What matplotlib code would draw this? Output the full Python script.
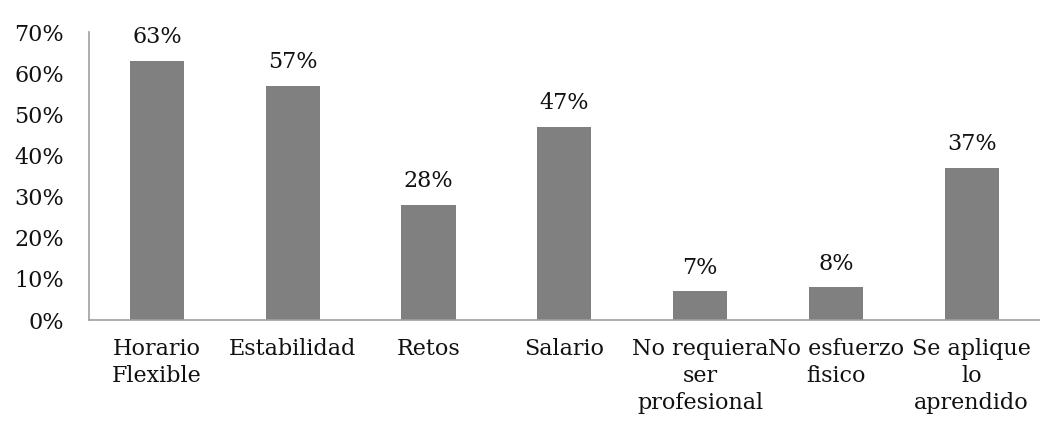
import matplotlib.pyplot as plt
from matplotlib.ticker import PercentFormatter

# datos
categorias = ['Horario\nFlexible', 'Estabilidad', 'Retos', 'Salario',
              'No requiera\nser\nprofesional', 'No esfuerzo\nfisico',
              'Se aplique\nlo\naprendido']
valores = [0.63, 0.57, 0.28, 0.47, 0.07, 0.08, 0.37]
etiquetas = ['63%', '57%', '28%', '47%', '7%', '8%', '37%']

plt.rcParams['font.family'] = ['DejaVu Serif']
plt.rcParams['font.size'] = 16

fig = plt.figure(figsize=(10.4, 4.28), dpi=100)
ax = fig.add_axes([0.0856, 0.252, 0.914, 0.673])

x = range(len(categorias))
ax.bar(x, valores, width=0.4, color='#808080')
for i, v in enumerate(valores):
    ax.annotate(etiquetas[i], (i, v), xytext=(0, 9), textcoords='offset points',
                ha='center', va='bottom', color='#111111')

ax.set_xlim(-0.5, len(categorias) - 0.5)
ax.set_ylim(0, 0.7)
ax.set_yticks([0, 0.1, 0.2, 0.3, 0.4, 0.5, 0.6, 0.7])
ax.yaxis.set_major_formatter(PercentFormatter(1.0, decimals=0))
ax.set_xticks(list(x))
ax.set_xticklabels(categorias, linespacing=1.3)
ax.tick_params(axis='both', length=0, colors='#111111')
ax.tick_params(axis='x', pad=13)
ax.tick_params(axis='y', pad=18)
for s in ['top', 'right']:
    ax.spines[s].set_visible(False)
for s in ['left', 'bottom']:
    ax.spines[s].set_color('#a0a0a0')
    ax.spines[s].set_linewidth(1.2)

plt.savefig('out.png', dpi=100)
